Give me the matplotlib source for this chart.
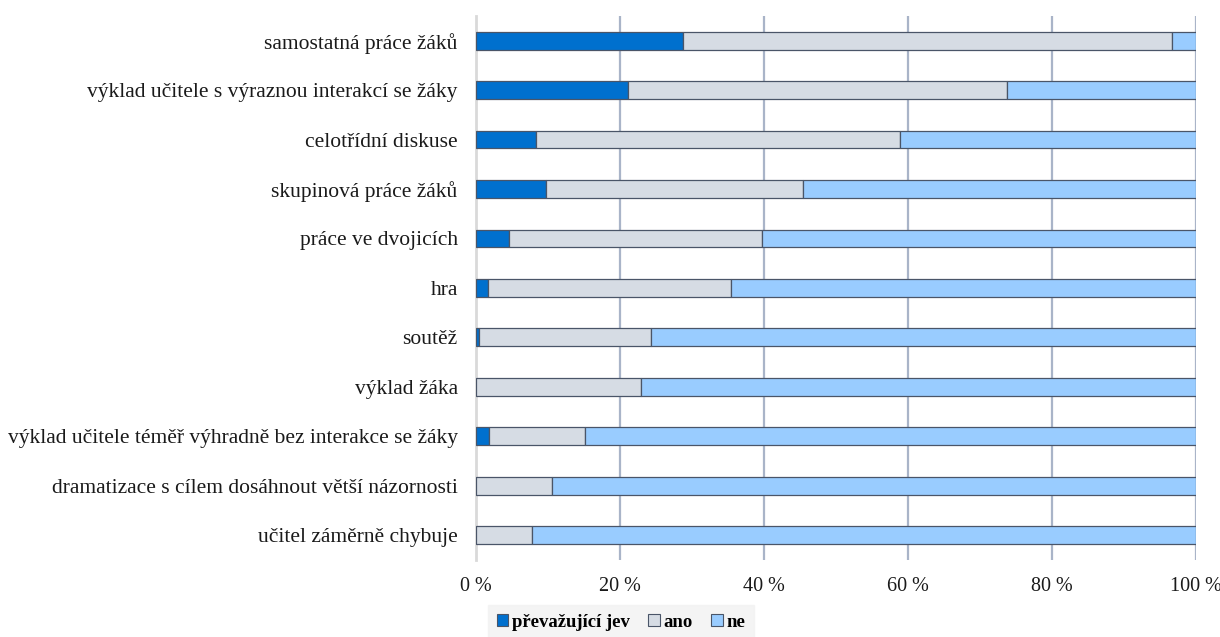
import numpy as np
import matplotlib.pyplot as plt
from matplotlib.ticker import FuncFormatter

# categories, top to bottom as in the chart
categories = [
    "samostatná práce žáků",
    "výklad učitele s výraznou interakcí se žáky",
    "celotřídní diskuse",
    "skupinová práce žáků",
    "práce ve dvojicích",
    "hra",
    "soutěž",
    "výklad žáka",
    "výklad učitele téměř výhradně bez interakce se žáky",
    "dramatizace s cílem dosáhnout větší názornosti",
    "učitel záměrně chybuje",
]

# shares in percent
prevazujici = [28.8, 21.1, 8.4, 9.7, 4.6, 1.7, 0.5, 0.0, 1.8, 0.0, 0.0]
ano = [67.9, 52.7, 50.5, 35.7, 35.2, 33.7, 23.8, 23.0, 13.4, 10.6, 7.8]
ne = [3.3, 26.2, 41.1, 54.6, 60.2, 64.6, 75.7, 77.0, 84.8, 89.4, 92.2]

series_names = ["převažující jev", "ano", "ne"]
colors = ["#0070CE", "#D6DCE4", "#99CCFF"]

plt.rcParams["font.family"] = ["Liberation Serif", "DejaVu Serif"]

fig = plt.figure(figsize=(12.2, 6.37), dpi=100)
ax = fig.add_axes([0.390, 0.121, 0.590, 0.854])

y = np.arange(len(categories))
left = np.zeros(len(categories))
for name, vals, col in zip(series_names, [prevazujici, ano, ne], colors):
    vals = np.array(vals)
    ax.barh(y, vals, left=left, height=0.36, color=col, edgecolor="#4A5568",
            linewidth=0.9, label=name, zorder=3)
    left += vals

ax.set_xlim(0, 100)
ax.set_ylim(len(categories) - 0.5, -0.5)
ax.set_yticks(y)
ax.set_yticklabels(categories, fontsize=15.5, color="#1a1a1a")
ax.set_xticks(np.arange(0, 101, 20))
ax.xaxis.set_major_formatter(FuncFormatter(lambda v, p: f"{int(v)} %"))
ax.tick_params(axis="x", labelsize=14.5, length=0, pad=12, colors="#1a1a1a")
ax.tick_params(axis="y", length=0, pad=13)

# gridlines (not at 0, the spine sits there)
for gx in [20, 40, 60, 80, 100]:
    ax.axvline(gx, color="#A9B4C8", linewidth=1.6, zorder=1)

for s in ["top", "right", "bottom"]:
    ax.spines[s].set_visible(False)
ax.spines["left"].set_color("#D9D9D9")
ax.spines["left"].set_linewidth(2)

leg = fig.legend(loc="lower center", bbox_to_anchor=(0.509, -0.018), ncol=3,
                 frameon=True, fancybox=False, handlelength=0.6, handleheight=0.6,
                 handletextpad=0.2, columnspacing=1.0, borderpad=0.45,
                 prop={"weight": "bold", "size": 13.5})
leg.get_frame().set_facecolor("#F2F2F2")
leg.get_frame().set_edgecolor("#F2F2F2")
for h in leg.legend_handles:
    h.set_edgecolor("#4A5568")
    h.set_linewidth(0.8)

fig.savefig("out.png", dpi=100, facecolor="white")
